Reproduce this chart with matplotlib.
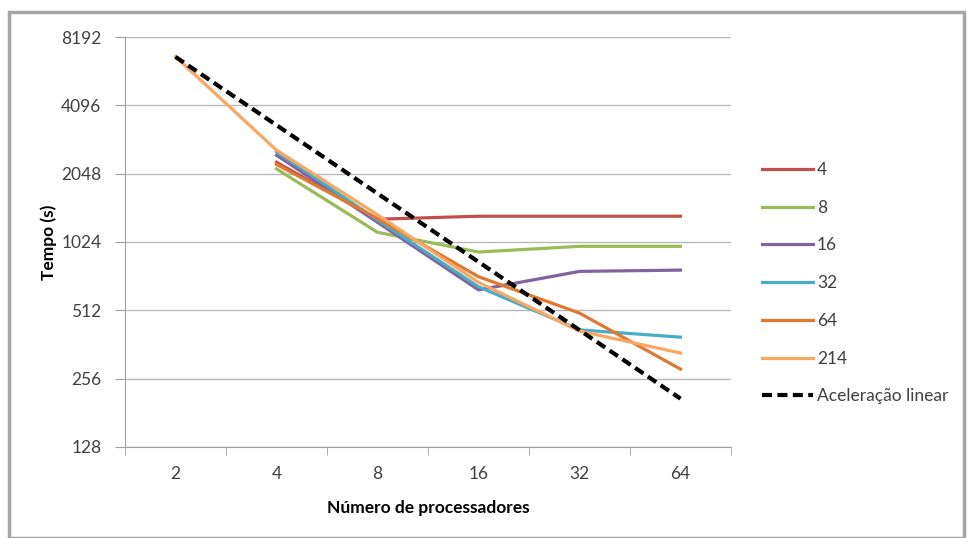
import matplotlib.pyplot as plt
from matplotlib.patches import Rectangle
from matplotlib.ticker import FixedLocator, FixedFormatter

plt.rcParams['font.family'] = ['Lato', 'DejaVu Sans']

procs = ['2', '4', '8', '16', '32', '64']
series_names = ['4', '8', '16', '32', '64', '214']
series_colors = ['#C0504D', '#9BBB59', '#8064A2', '#4BACC6', '#E0782F', '#F8A863']

# tempo (s) per numero de processadores; None = sem medicao
t4 = [None, 2300, 1290, 1330, 1330, 1330]
t8 = [None, 2150, 1130, 925, 980, 980]
t16 = [None, 2470, 1250, 630, 760, 770]
t32 = [None, 2560, 1280, 650, 420, 390]
t64 = [None, 2250, 1300, 720, 498, 282]
t214 = [6700, 2600, 1350, 680, 415, 332]
linear = [6700, 3350, 1675, 837, 419, 209]

yticks = [128, 256, 512, 1024, 2048, 4096, 8192]

fig = plt.figure(figsize=(9.67, 5.38), dpi=100)
ax = fig.add_axes([125/967, 1-447/538, 606/967, 410/538])

x = list(range(len(procs)))
for name, col, vals in zip(series_names, series_colors, [t4, t8, t16, t32, t64, t214]):
    xs = [i for i, v in zip(x, vals) if v is not None]
    ys = [v for v in vals if v is not None]
    ax.plot(xs, ys, color=col, lw=2.3, label=name)
ax.plot(x, linear, color='black', lw=3, ls=(0, (2.4, 1.3)), label='Aceleração linear')

ax.set_yscale('log', base=2)
ax.set_ylim(128, 8192)
ax.yaxis.set_major_locator(FixedLocator(yticks))
ax.yaxis.set_major_formatter(FixedFormatter([str(v) for v in yticks]))
ax.yaxis.set_minor_locator(FixedLocator([]))
ax.set_xlim(-0.5, len(procs) - 0.5)
ax.set_xticks(x)
ax.set_xticklabels(procs)
ax.set_xticks([i - 0.5 for i in range(len(procs) + 1)], minor=True)
ax.tick_params(axis='x', which='major', length=0, pad=14, labelsize=12.5, labelcolor='#404040')
ax.tick_params(axis='x', which='minor', length=6, color='#A0A0A0', direction='out')
ax.tick_params(axis='y', length=7, color='#A0A0A0', pad=10, labelsize=12.5, labelcolor='#404040')

ax.grid(axis='y', color='#B8B8B8', lw=1)
ax.set_axisbelow(True)
for s in ['top', 'right']:
    ax.spines[s].set_visible(False)
for s in ['left', 'bottom']:
    ax.spines[s].set_color('#A0A0A0')

ax.set_xlabel('Número de processadores', fontsize=12.5, fontweight='bold', labelpad=13)
ax.set_ylabel('Tempo (s)', fontsize=12.5, fontweight='bold')
ax.yaxis.set_label_coords(-0.112, 0.5)

leg = ax.legend(loc='upper left', bbox_to_anchor=(1.026, 0.733), frameon=False,
                fontsize=12.5, handlelength=2.9, handletextpad=0.25, labelspacing=1.25)
for t in leg.get_texts():
    t.set_color('#404040')

fig.patches.append(Rectangle((9/967, 0), 955/967, 1-12/538, transform=fig.transFigure,
                             fill=False, edgecolor='#A6A6A6', lw=2.5))

fig.savefig('out.png', dpi=100)
